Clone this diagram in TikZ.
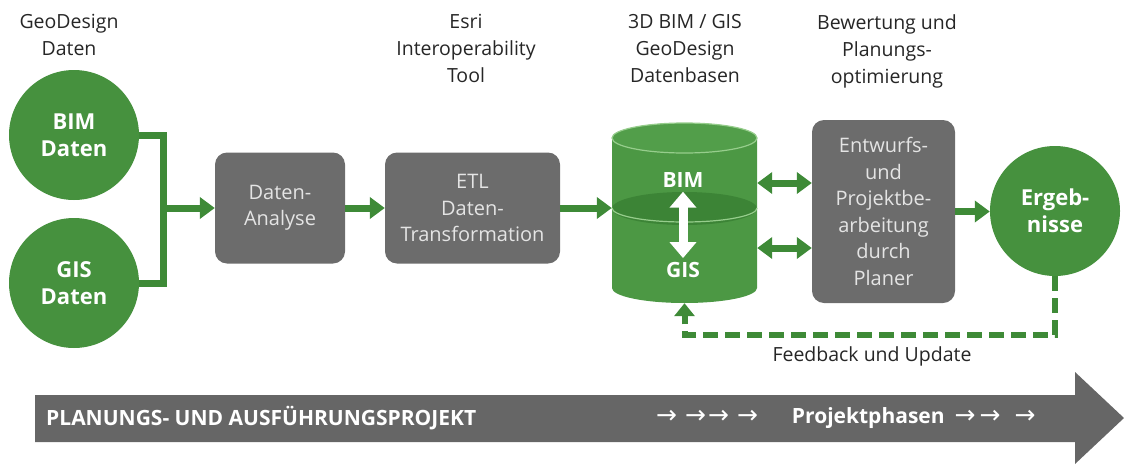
\documentclass[tikz,border=0pt]{standalone}
\usepackage{fontspec}
\setmainfont{Open Sans}
\newfontfamily\arrowfont{DejaVu Sans}
\usetikzlibrary{arrows.meta,positioning}
\definecolor{dgreen}{RGB}{70,145,62}
\definecolor{agreen}{RGB}{62,138,55}
\definecolor{cylgreen}{RGB}{76,152,68}
\definecolor{cyltop}{RGB}{82,158,74}
\definecolor{cyldark}{RGB}{60,132,54}
\definecolor{cyllight}{RGB}{150,205,140}
\definecolor{boxgray}{RGB}{108,108,108}
\definecolor{boxtext}{RGB}{228,228,228}
\definecolor{bargray}{RGB}{102,102,102}

\begin{document}
\begin{tikzpicture}[x=1pt,y=-1pt,
    head/.style={anchor=north,inner sep=0pt,align=center,text=black!85,
      font=\fontsize{19.5}{27}\selectfont},
    disc/.style={circle,fill=dgreen,minimum size=130pt,inner sep=0pt,
      text=white,align=center,font=\bfseries\fontsize{22}{27}\selectfont},
    box/.style={rectangle,rounded corners=12pt,fill=boxgray,text=boxtext,
      align=center,inner sep=0pt,font=\fontsize{20}{26.5}\selectfont},
    dblabel/.style={text=white,inner sep=4pt,font=\bfseries\fontsize{21}{24}\selectfont},
    pipe/.style={draw=agreen,line width=7pt},
    flow/.style={pipe,-{Triangle[length=15pt,width=21pt]}},
    both/.style={pipe,{Triangle[length=15pt,width=21pt]}-{Triangle[length=15pt,width=21pt]}},
    swap/.style={draw=white,line width=9pt,
      {Triangle[length=16pt,width=26pt]}-{Triangle[length=16pt,width=26pt]}},
    feedback/.style={draw=agreen,line width=6pt,dash pattern=on 15pt off 7pt,
      -{Triangle[length=13pt,width=20pt]}},
    bartext/.style={anchor=west,inner sep=0pt,text=white,
      font=\bfseries\fontsize{21}{24}\selectfont}]
  \useasboundingbox (0,0) rectangle (1124,466);

  % headings
  \node[head] (hgeo) at (69,14) {GeoDesign\\Daten};
  \node[head] (hesri) at (466,14) {Esri\\Interoperability\\Tool};
  \node[head] (hdb) at (685,14) {3D BIM / GIS\\GeoDesign\\Datenbasen};
  \node[head] (hbew) at (887,14) {Bewertung und\\Planungs-\\optimierung};

  % sources
  \node[disc] (bim) at (74,135) {BIM\\Daten};
  \node[disc] (gis) at (74,283) {GIS\\Daten};
  \coordinate (join) at (163,208);

  \node[box,minimum width=130pt,minimum height=111pt] (ana) at (280,208) {Daten-\\Analyse};
  \node[box,minimum width=175pt,minimum height=111pt] (etl) at (472.5,208)
    {ETL\\Daten-\\Transformation};

  % database
  \node[inner sep=0pt,minimum width=145pt,minimum height=180pt] (db) at (684.5,213) {};
  \fill[cylgreen] (612,138) -- (612,288)
    arc[start angle=180,end angle=360,x radius=72.5pt,y radius=15pt]
    -- (757,138) arc[start angle=0,end angle=180,x radius=72.5pt,y radius=15pt] -- cycle;
  \fill[cyltop] (684.5,138) ellipse[x radius=72.5pt,y radius=15pt];
  \draw[cyllight,line width=1.2pt] (684.5,138) ellipse[x radius=72.5pt,y radius=15pt];
  \fill[cyldark] (684.5,208.5) ellipse[x radius=72.5pt,y radius=16.5pt];
  \draw[cyllight,line width=1.2pt] (612,208)
    arc[start angle=180,end angle=360,x radius=72.5pt,y radius=14pt];
  \node[dblabel] (dbbim) at (683,180) {BIM};
  \node[dblabel] (dbgis) at (683,270) {GIS};
  \draw[swap] (dbbim) -- (dbgis);

  \node[box,minimum width=143pt,minimum height=183pt] (entw) at (883.5,211.5)
    {Entwurfs-\\und\\Projektbe-\\arbeitung\\durch\\Planer};
  \node[disc] (erg) at (1055,211) {Ergeb-\\nisse};

  % connectors
  \draw[pipe] (bim) -| (join);
  \draw[pipe] (gis) -| (join);
  \draw[flow] (join) -- (ana);
  \draw[flow] (ana) -- (etl);
  \draw[flow] (etl) -- (etl -| db.west);
  \draw[both] ([yshift=30pt]db.east) -- ([yshift=30pt]db.east -| entw.west);
  \draw[both] ([yshift=-35pt]db.east) -- ([yshift=-35pt]db.east -| entw.west);
  \draw[flow] (entw) -- (entw -| erg.west);

  % feedback loop
  \coordinate (fbturn) at (684.5,335);
  \draw[feedback] (erg.south) |- (fbturn) -- (db.south);
  \node[text=black!85,font=\fontsize{19.5}{24}\selectfont] (fblabel) at (872,356)
    {Feedback und Update};

  % project bar
  \fill[bargray] (35,395) -- (1075,395) -- (1075,372) -- (1124,418)
    -- (1075,464) -- (1075,442) -- (35,442) -- cycle;
  \node[bartext] (projekt) at (46,418.5) {PLANUNGS- UND AUSFÜHRUNGSPROJEKT};
  \node[bartext] (phasen) at (656,418.5)
    {{\mdseries\arrowfont\fontsize{25}{25}\selectfont →\hspace{8pt}→\hspace{2pt}→\hspace{8pt}→}\hspace{34pt}Projektphasen%
     \hspace{10pt}{\mdseries\arrowfont\fontsize{25}{25}\selectfont →\hspace{4pt}→\hspace{14pt}→}};
\end{tikzpicture}
\end{document}
